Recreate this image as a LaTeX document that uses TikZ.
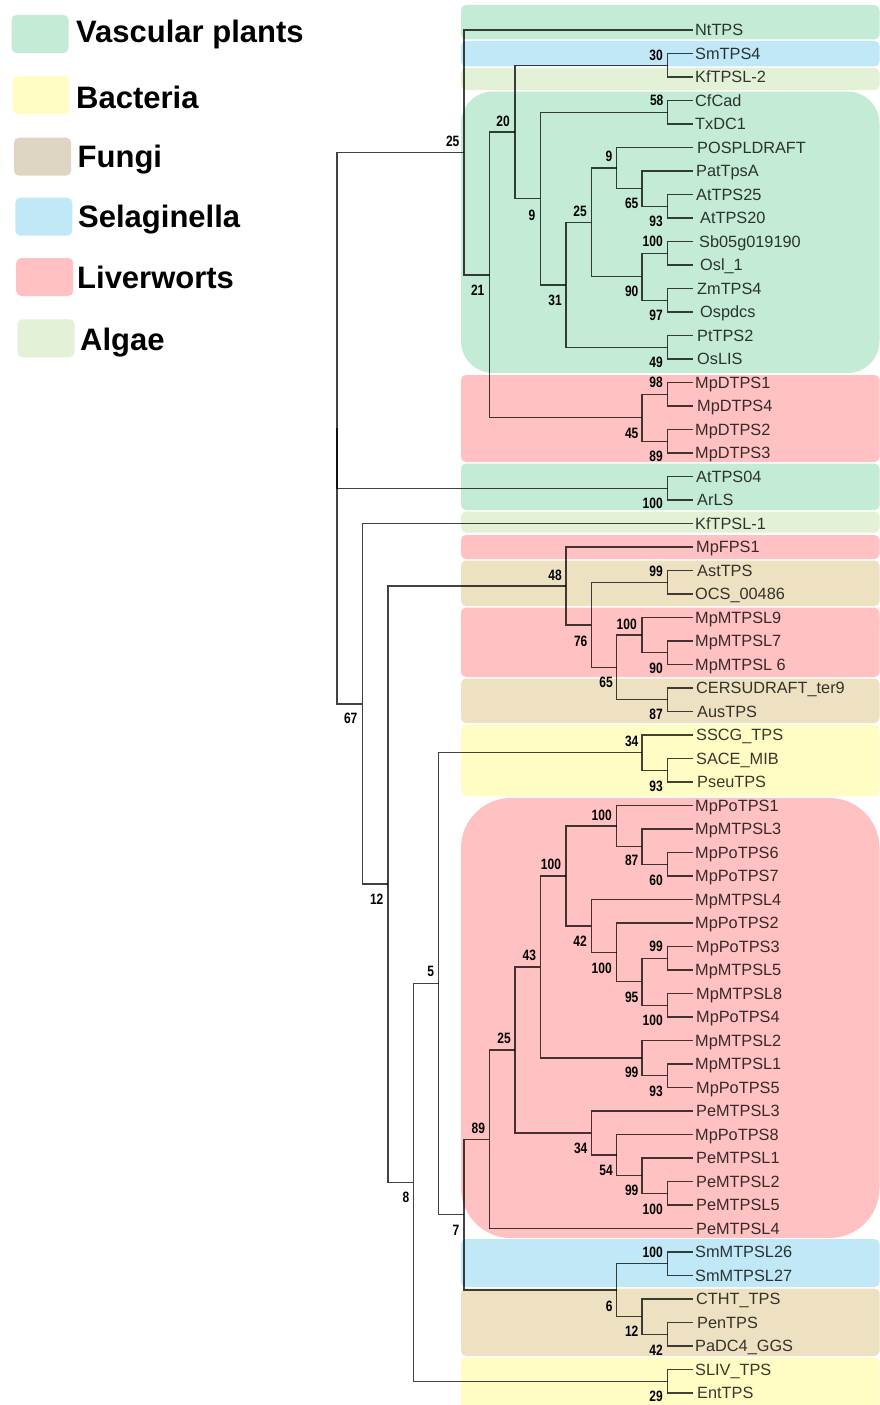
\documentclass[tikz,border=0pt]{standalone}
\usepackage{fontspec}
\setmainfont{Liberation Sans}
\definecolor{cvasc}{HTML}{C3EBD5}
\definecolor{csela}{HTML}{C1E8F6}
\definecolor{calga}{HTML}{E3F1D6}
\definecolor{cliver}{HTML}{FFC1C1}
\definecolor{cfungi}{HTML}{EEE1C1}
\definecolor{cfungileg}{HTML}{DED6C2}
\definecolor{cbact}{HTML}{FFFDC4}
\newcommand\bsnode[4]{\node[bs] (#1) at (#2,#3) {\scalebox{0.8}[1]{#4}};}
\begin{document}
\begin{tikzpicture}[x=1pt,y=-1pt,
  branch/.style={draw=black, draw opacity=0.74, line width=1.45pt},
  leaf/.style={anchor=base west, inner sep=0pt, yshift=-5.7pt, font=\fontsize{16.3}{16}\selectfont, text=black, text opacity=0.78},
  bs/.style={inner sep=0pt, font=\fontsize{15}{15}\selectfont\bfseries},
  legtext/.style={anchor=base west, inner sep=0pt, font=\fontsize{31}{31}\selectfont\bfseries},
  legbox/.style={draw=none, rounded corners=5pt, minimum width=57pt, minimum height=38pt, inner sep=0pt},
  band/.style={rounded corners=5pt}]
\useasboundingbox (0,0) rectangle (880,1405);
\fill[white] (0,0) rectangle (880,1405);
% legend
\node[legbox, fill=cvasc] (bv) at (40,34) {};
\node[legbox, fill=cbact] (bb) at (41.2,95) {};
\node[legbox, fill=cfungileg] (bf) at (42.5,156.7) {};
\node[legbox, fill=csela] (bs) at (43.8,216.7) {};
\node[legbox, fill=cliver] (bl) at (44.7,277) {};
\node[legbox, fill=calga] (ba) at (46,338.3) {};
\node[legtext] (tv) at (76,43) {Vascular plants};
\node[legtext] (tb) at (76,108) {Bacteria};
\node[legtext] (tf) at (77.5,167) {Fungi};
\node[legtext] (ts) at (78,227) {Selaginella};
\node[legtext] (tl) at (77,288) {Liverworts};
\node[legtext] (ta) at (80,350) {Algae};
% background bands
\begin{scope}
\clip (0,0) rectangle (880,1405);
\fill[band, cvasc] (461,5) rectangle (879.5,39.5);
\fill[band, csela] (461,41) rectangle (879.5,66.5);
\fill[band, calga] (461,68) rectangle (879.5,90);
\fill[cvasc, rounded corners=32pt] (461,91.5) rectangle (879.5,373);
\fill[band, cliver] (461,375) rectangle (879.5,462);
\fill[band, cvasc] (461,463.5) rectangle (879.5,510);
\fill[band, calga] (461,511.5) rectangle (879.5,532.5);
\fill[band, cliver] (461,535) rectangle (879.5,559);
\fill[band, cfungi] (461,560.5) rectangle (879.5,606);
\fill[band, cliver] (461,607.5) rectangle (879.5,677);
\fill[band, cfungi] (461,678.5) rectangle (879.5,723);
\fill[band, cbact] (461,724.5) rectangle (879.5,796);
\fill[cliver, rounded corners=50pt] (461,798) rectangle (879.5,1238);
\fill[band, csela] (461,1239) rectangle (879.5,1287);
\fill[band, cfungi] (461,1288.5) rectangle (879.5,1356);
\fill[band, cbact] (461,1357.5) rectangle (879.5,1415);
\end{scope}
% tree
\begin{scope}[shift={(337,6.5)}, x=25.43pt, y=-23.5pt]
\foreach \i in {1,...,59} \coordinate (L\i) at (14,\i);
\coordinate (n1) at (13,2.5);
\coordinate (n2) at (13,4.5);
\coordinate (n3) at (13,8.5);
\coordinate (n4) at (12,7.75);
\coordinate (n5) at (11,6.875);
\coordinate (n6) at (13,10.5);
\coordinate (n7) at (13,12.5);
\coordinate (n8) at (12,11.5);
\coordinate (n9) at (10,9.1875);
\coordinate (n10) at (13,14.5);
\coordinate (n11) at (9,11.84375);
\coordinate (n12) at (8,8.171875);
\coordinate (n13) at (7,5.3359375);
\coordinate (n14) at (13,16.5);
\coordinate (n15) at (13,18.5);
\coordinate (n16) at (12,17.5);
\coordinate (n17) at (6,11.41796875);
\coordinate (n18) at (5,6.208984);
\coordinate (n19) at (13,20.5);
\coordinate (n20) at (13,24.5);
\coordinate (n21) at (13,27.5);
\coordinate (n22) at (12,26.75);
\coordinate (n23) at (13,29.5);
\coordinate (n24) at (11,28.125);
\coordinate (n25) at (10,26.3125);
\coordinate (n26) at (9,24.65625);
\coordinate (n27) at (13,32.5);
\coordinate (n28) at (12,31.75);
\coordinate (n29) at (13,36.5);
\coordinate (n30) at (12,35.75);
\coordinate (n31) at (11,34.875);
\coordinate (n32) at (13,40.5);
\coordinate (n33) at (13,42.5);
\coordinate (n34) at (12,41.5);
\coordinate (n35) at (11,40.25);
\coordinate (n36) at (10,39.125);
\coordinate (n37) at (9,37.0);
\coordinate (n38) at (13,45.5);
\coordinate (n39) at (12,44.75);
\coordinate (n40) at (8,40.875);
\coordinate (n41) at (13,50.5);
\coordinate (n42) at (12,49.75);
\coordinate (n43) at (11,48.875);
\coordinate (n44) at (10,47.9375);
\coordinate (n45) at (7,44.40625);
\coordinate (n46) at (6,48.203125);
\coordinate (n47) at (13,53.5);
\coordinate (n48) at (13,56.5);
\coordinate (n49) at (12,55.75);
\coordinate (n50) at (11,54.625);
\coordinate (n51) at (5,51.4140625);
\coordinate (n52) at (4,41.58203);
\coordinate (n53) at (13,58.5);
\coordinate (n54) at (3,50.041);
\coordinate (n55) at (2,37.3486);
\coordinate (n56) at (1,29.6743);
\coordinate (root) at (0,17.94);
\end{scope}
\foreach \p/\c in {n1/L2,n1/L3,n2/L4,n2/L5,n3/L8,n3/L9,n4/L7,n4/n3,n5/L6,n5/n4,
  n6/L10,n6/L11,n7/L12,n7/L13,n8/n6,n8/n7,n9/n5,n9/n8,n10/L14,n10/L15,n11/n9,n11/n10,
  n12/n2,n12/n11,n13/n1,n13/n12,n14/L16,n14/L17,n15/L18,n15/L19,n16/n14,n16/n15,
  n17/n13,n17/n16,n18/L1,n18/n17,n19/L20,n19/L21,n20/L24,n20/L25,n21/L27,n21/L28,
  n22/L26,n22/n21,n23/L29,n23/L30,n24/n22,n24/n23,n25/n20,n25/n24,n26/L23,n26/n25,
  n27/L32,n27/L33,n28/L31,n28/n27,n29/L36,n29/L37,n30/L35,n30/n29,n31/L34,n31/n30,
  n32/L40,n32/L41,n33/L42,n33/L43,n34/n32,n34/n33,n35/L39,n35/n34,n36/L38,n36/n35,
  n37/n31,n37/n36,n38/L45,n38/L46,n39/L44,n39/n38,n40/n37,n40/n39,n41/L50,n41/L51,
  n42/L49,n42/n41,n43/L48,n43/n42,n44/L47,n44/n43,n45/n40,n45/n44,n46/n45,n46/L52,
  n47/L53,n47/L54,n48/L56,n48/L57,n49/L55,n49/n48,n50/n47,n50/n49,n51/n46,n51/n50,
  n52/n28,n52/n51,n53/L58,n53/L59,n54/n52,n54/n53,n55/n26,n55/n54,n56/L22,n56/n55,
  root/n18,root/n19,root/n56}
  \draw[branch] (\p) |- (\c);
% leaf labels
\foreach \i/\t/\dx in {1/NtTPS/0, 2/SmTPS4/0, 3/KfTPSL-2/0, 4/CfCad/0, 5/TxDC1/0,
  6/POSPLDRAFT/2, 7/PatTpsA/1, 8/AtTPS25/1, 9/AtTPS20/5, 10/Sb05g019190/4,
  11/Osl\_1/5, 12/ZmTPS4/2, 13/Ospdcs/5, 14/PtTPS2/2, 15/OsLIS/2,
  16/MpDTPS1/0, 17/MpDTPS4/2, 18/MpDTPS2/0, 19/MpDTPS3/0, 20/AtTPS04/1,
  21/ArLS/2, 22/KfTPSL-1/0, 23/MpFPS1/1, 24/AstTPS/2, 25/OCS\_00486/0,
  26/MpMTPSL9/0, 27/MpMTPSL7/0, 28/MpMTPSL 6/0, 29/CERSUDRAFT\_ter9/1, 30/AusTPS/2,
  31/SSCG\_TPS/1, 32/SACE\_MIB/1, 33/PseuTPS/2, 34/MpPoTPS1/0, 35/MpMTPSL3/0,
  36/MpPoTPS6/0, 37/MpPoTPS7/0, 38/MpMTPSL4/0, 39/MpPoTPS2/0, 40/MpPoTPS3/1,
  41/MpMTPSL5/0, 42/MpMTPSL8/1, 43/MpPoTPS4/1, 44/MpMTPSL2/0, 45/MpMTPSL1/0,
  46/MpPoTPS5/1, 47/PeMTPSL3/1, 48/MpPoTPS8/0, 49/PeMTPSL1/1, 50/PeMTPSL2/1,
  51/PeMTPSL5/1, 52/PeMTPSL4/1, 53/SmMTPSL26/0, 54/SmMTPSL27/0, 55/CTHT\_TPS/1,
  56/PenTPS/2, 57/PaDC4\_GGS/0, 58/SLIV\_TPS/0, 59/EntTPS/2}
  \node[leaf, xshift=2pt+\dx pt] (t\i) at (L\i) {\t};
% bootstrap values
\bsnode{b1}{656}{55}{30}
\bsnode{b2}{656.7}{100.7}{58}
\bsnode{b3}{656}{221.7}{93}
\bsnode{b4}{631.7}{203.3}{65}
\bsnode{b5}{609}{156.7}{9}
\bsnode{b6}{652.7}{241.7}{100}
\bsnode{b7}{656}{315}{97}
\bsnode{b8}{631.7}{291.7}{90}
\bsnode{b9}{580}{211.7}{25}
\bsnode{b10}{656}{362.7}{49}
\bsnode{b11}{555}{300}{31}
\bsnode{b12}{532}{215}{9}
\bsnode{b13}{503}{121.7}{20}
\bsnode{b14}{656}{382.7}{98}
\bsnode{b15}{656}{456.7}{89}
\bsnode{b16}{631.7}{433.3}{45}
\bsnode{b17}{477.7}{290}{21}
\bsnode{b18}{452.7}{141.7}{25}
\bsnode{b19}{652.7}{503.3}{100}
\bsnode{b20}{656}{571.7}{99}
\bsnode{b21}{656}{668.3}{90}
\bsnode{b22}{626.7}{624}{100}
\bsnode{b23}{656}{714}{87}
\bsnode{b24}{606}{682.7}{65}
\bsnode{b25}{580.7}{641}{76}
\bsnode{b26}{555}{575.7}{48}
\bsnode{b27}{656}{786.7}{93}
\bsnode{b28}{631.7}{741.7}{34}
\bsnode{b29}{656}{880}{60}
\bsnode{b30}{631.7}{860.7}{87}
\bsnode{b31}{601.7}{815}{100}
\bsnode{b32}{656}{946.7}{99}
\bsnode{b33}{652.7}{1020}{100}
\bsnode{b34}{631.7}{997.3}{95}
\bsnode{b35}{601.7}{968.3}{100}
\bsnode{b36}{580}{941.7}{42}
\bsnode{b37}{551}{864.3}{100}
\bsnode{b38}{656}{1091.7}{93}
\bsnode{b39}{631.7}{1072.7}{99}
\bsnode{b40}{529.3}{955}{43}
\bsnode{b41}{652.7}{1209.3}{100}
\bsnode{b42}{631.7}{1190.7}{99}
\bsnode{b43}{606}{1170.7}{54}
\bsnode{b44}{580.7}{1148.3}{34}
\bsnode{b45}{504}{1038.3}{25}
\bsnode{b46}{478.3}{1128.3}{89}
\bsnode{b47}{652.7}{1252.7}{100}
\bsnode{b48}{656}{1350}{42}
\bsnode{b49}{631.7}{1331.7}{12}
\bsnode{b50}{609.3}{1306}{6}
\bsnode{b51}{456}{1230}{7}
\bsnode{b52}{430.7}{971.7}{5}
\bsnode{b53}{656}{1396.7}{29}
\bsnode{b54}{406}{1197.3}{8}
\bsnode{b55}{376.7}{899.3}{12}
\bsnode{b56}{350.7}{718.3}{67}
\end{tikzpicture}
\end{document}
